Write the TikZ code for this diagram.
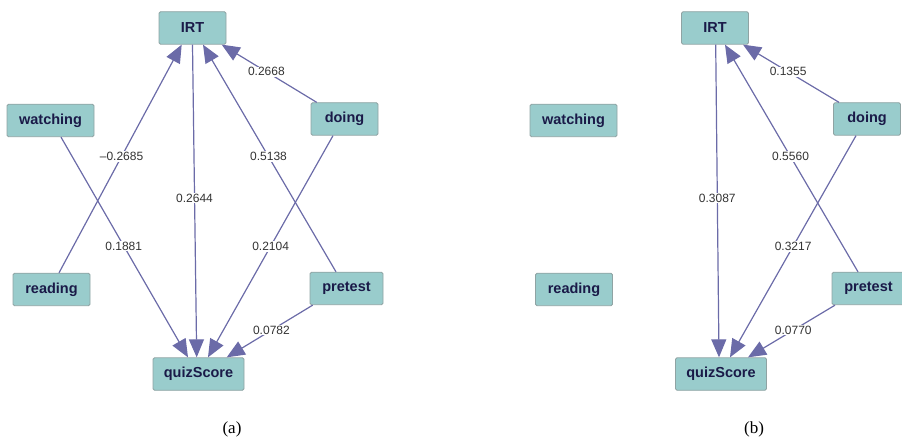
\documentclass[tikz,border=0pt]{standalone}
\usepackage{fontspec}
\setmainfont{Liberation Serif}
\setsansfont{Liberation Sans}
\usetikzlibrary{arrows.meta}
\definecolor{boxfill}{HTML}{99CCCC}
\definecolor{boxline}{HTML}{8FA3A3}
\definecolor{boxtext}{HTML}{1A1A48}
\definecolor{edgecol}{HTML}{6B6BA8}
\definecolor{wtext}{HTML}{333333}
\tikzset{
  var/.style={draw=boxline, line width=0.8pt, fill=boxfill, rounded corners=1.5pt,
    text=boxtext, font=\sffamily\bfseries\fontsize{14.5}{16}\selectfont,
    minimum height=32.5pt, inner sep=0pt},
  conn/.style={draw=edgecol, line width=1.2pt,
    arrows={-{Triangle[length=18pt,width=15pt,fill=edgecol]}}},
  wt/.style={fill=white, text=wtext, font=\sffamily\fontsize{12}{14}\selectfont,
    inner sep=1pt},
  captxt/.style={font=\fontsize{17}{19}\selectfont}
}
\begin{document}
\begin{tikzpicture}[x=1pt,y=-1pt]
\useasboundingbox (0,0) rectangle (902,438);

% ---- panel (a) ----
\node[var, minimum width=67pt] (irtA) at (192.5,28) {IRT};
\node[var, minimum width=87pt] (watchA) at (50.5,120.5) {watching};
\node[var, minimum width=67pt] (doingA) at (344.5,119) {doing};
\node[var, minimum width=77pt] (readA) at (51.5,289.5) {reading};
\node[var, minimum width=73pt] (preA) at (346.5,288.5) {pretest};
\node[var, minimum width=91pt] (quizA) at (198.5,374) {quizScore};

\draw[conn] ([xshift=7.5pt]readA.north) -- node[wt, pos=0.51] {–0.2685} ([xshift=-10.8pt]irtA.south);
\draw[conn] ([xshift=10.5pt]watchA.south) -- node[wt, pos=0.494] {0.1881} ([xshift=-10.5pt]quizA.north);
\draw[conn] (irtA.south) -- node[wt, pos=0.49] {0.2644} ([xshift=-1.8pt]quizA.north);
\draw[conn] ([xshift=-10.5pt]preA.north) -- node[wt, pos=0.507] {0.5138} ([xshift=10.5pt]irtA.south);
\draw[conn] ([xshift=-11.5pt]doingA.south) -- node[wt, pos=0.499] {0.2104} ([xshift=9.5pt]quizA.north);
\draw[conn] ([xshift=-27.8pt]doingA.north) -- node[wt, pos=0.53] {0.2668} ([xshift=29.2pt]irtA.south);
\draw[conn] ([xshift=-33.8pt]preA.south) -- node[wt, pos=0.48] {0.0782} ([xshift=28.2pt]quizA.north);

\node[captxt] (capA) at (232,429) {(a)};

% ---- panel (b) ----
\node[var, minimum width=67pt] (irtB) at (715,28) {IRT};
\node[var, minimum width=87pt] (watchB) at (573.5,120.5) {watching};
\node[var, minimum width=67pt] (doingB) at (867,119) {doing};
\node[var, minimum width=77pt] (readB) at (574,289.5) {reading};
\node[var, minimum width=73pt] (preB) at (868.5,288.5) {pretest};
\node[var, minimum width=91pt] (quizB) at (721,374) {quizScore};

\draw[conn] ([xshift=0.7pt]irtB.south) -- node[wt, pos=0.49] {0.3087} ([xshift=-2pt]quizB.north);
\draw[conn] ([xshift=-10.5pt]preB.north) -- node[wt, pos=0.507] {0.5560} ([xshift=10pt]irtB.south);
\draw[conn] ([xshift=-11pt]doingB.south) -- node[wt, pos=0.499] {0.3217} ([xshift=9pt]quizB.north);
\draw[conn] ([xshift=-28pt]doingB.north) -- node[wt, pos=0.53] {0.1355} ([xshift=28pt]irtB.south);
\draw[conn] ([xshift=-33.5pt]preB.south) -- node[wt, pos=0.48] {0.0770} ([xshift=27pt]quizB.north);

\node[captxt] (capB) at (754,429) {(b)};
\end{tikzpicture}
\end{document}
